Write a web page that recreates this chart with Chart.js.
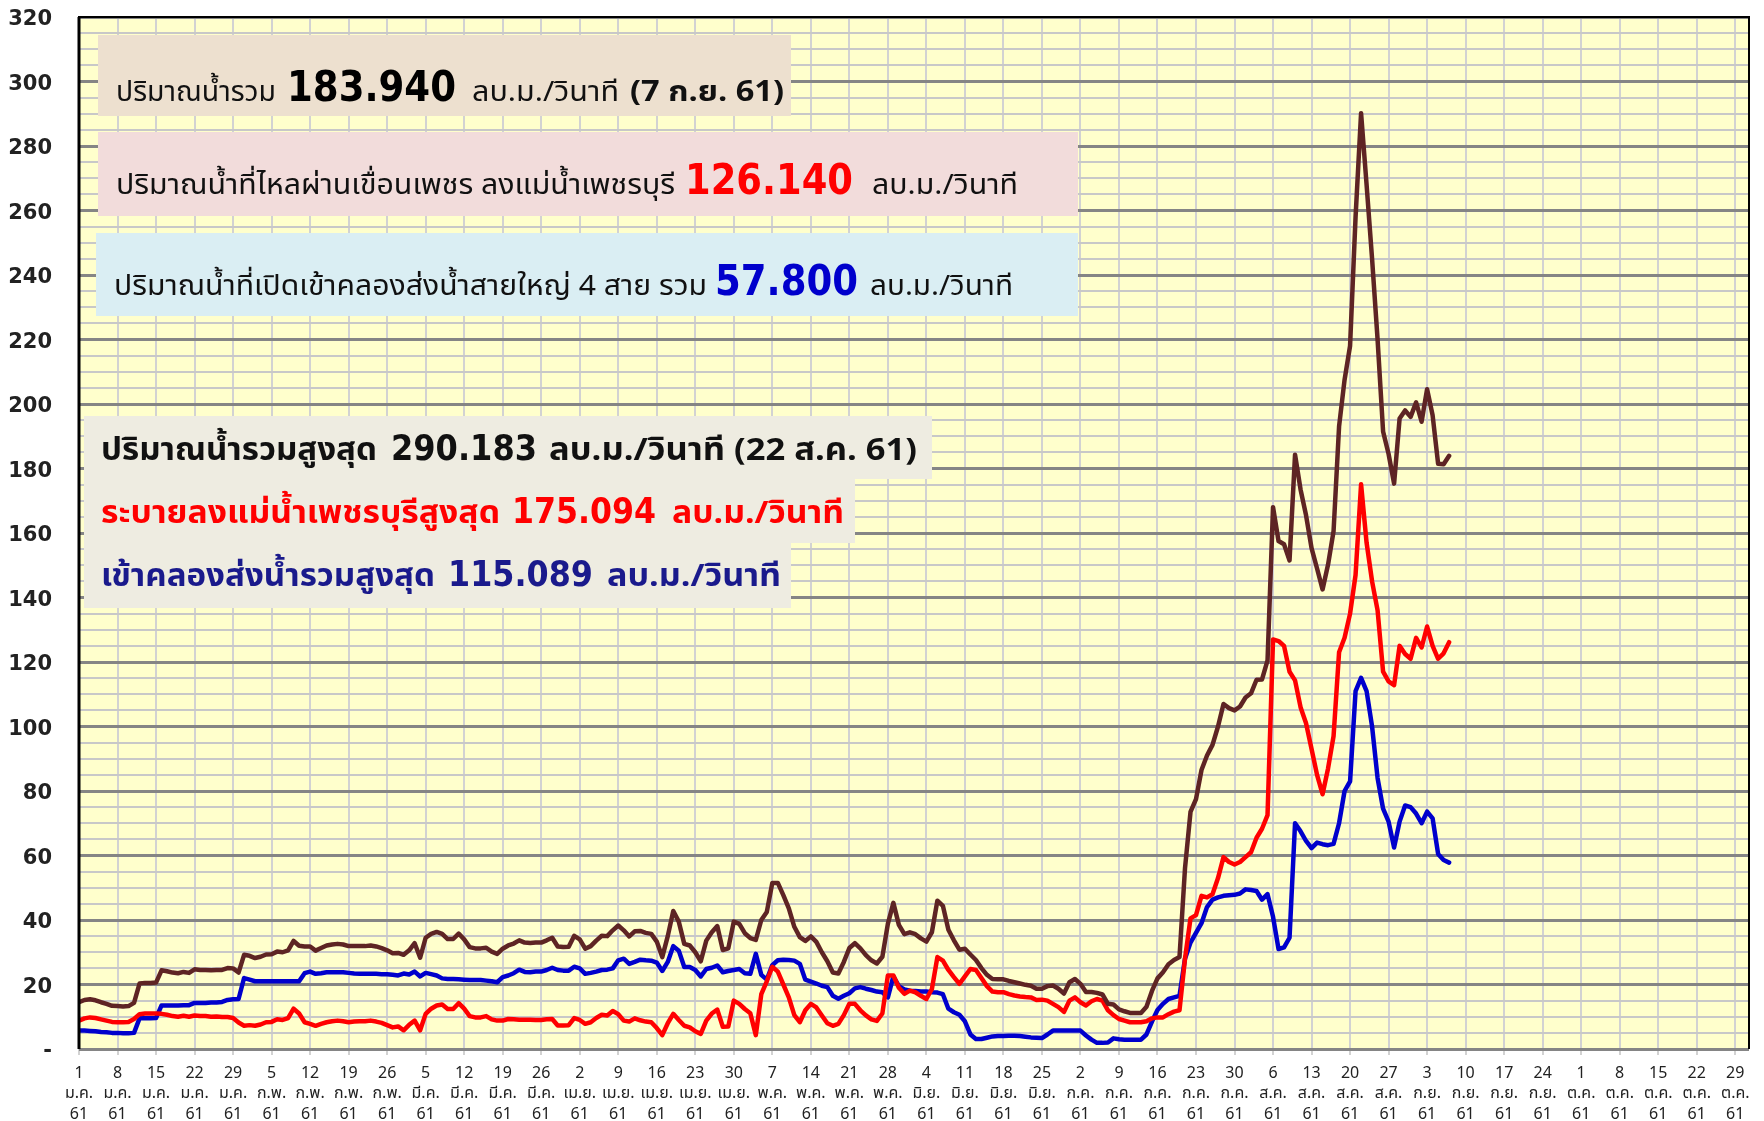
<!DOCTYPE html>
<html>
<head>
<meta charset="utf-8">
<script src="https://cdn.jsdelivr.net/npm/chart.js@4.4.1/dist/chart.umd.min.js"></script>
<style>
  html, body { margin: 0; padding: 0; background: #ffffff; }
  #wrap { width: 1764px; height: 1121px; }
</style>
</head>
<body>
<div id="wrap"><canvas id="flowChart" width="1764" height="1121"></canvas></div>
<script>
// Daily flow, 1 Jan 61 (index 0) to 7 Sep 61 (index 249), m3/s
// Water released to the Phetchaburi river
const releaseRiver = [
    8.8, 9.5, 9.8, 9.6, 9.2, 8.8, 8.4, 8.3, 8.3, 8.4,
    9.3, 10.8, 11.0, 11.0, 11.0, 10.9, 10.6, 10.2, 10.0, 10.3,
    10.0, 10.4, 10.2, 10.2, 10.0, 10.1, 9.9, 9.9, 9.6, 8.2,
    7.2, 7.4, 7.2, 7.6, 8.3, 8.4, 9.2, 9.0, 9.6, 12.5,
    11.0, 8.3, 7.8, 7.2, 7.8, 8.3, 8.6, 8.8, 8.6, 8.3,
    8.5, 8.6, 8.6, 8.8, 8.5, 8.1, 7.4, 6.7, 7.0, 5.8,
    7.5, 8.8, 5.8, 10.9, 12.5, 13.5, 13.8, 12.4, 12.4, 14.2,
    12.5, 10.2, 9.8, 9.8, 10.2, 9.2, 8.8, 8.8, 9.3, 9.2,
    9.1, 9.1, 9.1, 9.0, 9.0, 9.2, 9.3, 7.3, 7.3, 7.4,
    9.6, 9.0, 7.8, 8.3, 9.6, 10.6, 10.4, 11.8, 10.8, 8.8,
    8.5, 9.5, 8.9, 8.5, 8.3, 6.5, 4.3, 8.0, 10.9, 9.0,
    7.2, 6.7, 5.5, 4.7, 8.8, 11.0, 12.2, 6.9, 7.0, 15.0,
    14.0, 12.4, 11.1, 4.3, 17.0, 21.0, 25.5, 24.0, 20.0, 16.0,
    10.5, 8.3, 12.0, 14.0, 12.9, 10.4, 8.0, 7.2, 7.8, 10.5,
    14.0, 14.0, 12.0, 10.4, 9.2, 8.7, 11.0, 22.8, 22.8, 19.0,
    17.1, 18.1, 17.6, 16.5, 15.5, 18.6, 28.5, 27.4, 24.5, 22.3,
    20.2, 22.5, 24.8, 24.5, 22.0, 19.5, 17.8, 17.6, 17.6, 17.0,
    16.6, 16.3, 16.1, 16.0, 15.2, 15.3, 15.0, 14.0, 13.0, 11.5,
    15.0, 16.0, 14.5, 13.5, 14.8, 15.5, 15.0, 12.0, 10.5, 9.3,
    8.8, 8.3, 8.3, 8.3, 8.6, 9.5, 9.8, 9.8, 10.8, 11.6,
    12.0, 28.0, 40.5, 41.5, 47.5, 47.0, 48.0, 53.0, 59.5, 58.0,
    57.2, 58.0, 59.5, 61.0, 65.5, 68.3, 72.5, 127.0, 126.5, 125.0,
    117.0, 114.3, 106.0, 101.0, 93.0, 85.0, 79.0, 87.0, 97.0, 123.0,
    127.5, 135.0, 147.0, 175.094, 157.0, 145.0, 136.0, 117.0, 114.0, 112.8,
    125.0, 122.5, 121.0, 127.5, 124.5, 131.0, 125.0, 121.0, 122.7, 126.14
];

// Water sent into the 4 main irrigation canals
const inflowCanal = [
    5.7, 5.7, 5.6, 5.5, 5.3, 5.2, 5.0, 5.0, 4.9, 4.9,
    5.0, 9.5, 9.5, 9.5, 9.6, 13.5, 13.5, 13.5, 13.5, 13.6,
    13.6, 14.3, 14.3, 14.3, 14.4, 14.4, 14.6, 15.2, 15.4, 15.5,
    22.0, 21.5, 21.0, 21.0, 21.0, 21.0, 21.0, 21.0, 21.0, 21.0,
    21.0, 23.5, 24.0, 23.3, 23.5, 23.8, 23.8, 23.8, 23.8, 23.6,
    23.4, 23.3, 23.3, 23.3, 23.3, 23.2, 23.2, 23.0, 22.8, 23.4,
    23.1, 24.0, 22.5, 23.6, 23.2, 22.8, 21.9, 21.7, 21.7, 21.6,
    21.5, 21.4, 21.4, 21.4, 21.2, 21.0, 20.7, 22.3, 22.8, 23.5,
    24.6, 23.9, 23.8, 24.0, 24.0, 24.5, 25.2, 24.5, 24.3, 24.3,
    25.5, 25.0, 23.3, 23.6, 24.0, 24.5, 24.6, 25.0, 27.5, 28.0,
    26.4, 27.0, 27.7, 27.5, 27.4, 26.8, 24.2, 27.0, 31.9, 30.5,
    25.4, 25.4, 24.5, 22.5, 24.8, 25.2, 25.9, 23.8, 24.2, 24.5,
    24.8, 23.5, 23.3, 29.5, 23.0, 21.5, 26.0, 27.5, 27.7, 27.6,
    27.4, 26.4, 21.5, 20.9, 20.3, 19.6, 19.2, 16.5, 15.6, 16.5,
    17.3, 18.8, 19.2, 18.7, 18.3, 17.8, 17.6, 16.0, 22.5, 19.5,
    18.5, 18.1, 18.0, 17.8, 17.8, 17.6, 17.5, 17.0, 12.5, 11.4,
    10.6, 8.6, 4.5, 3.1, 3.1, 3.5, 3.9, 4.0, 4.0, 4.1,
    4.1, 4.0, 3.8, 3.6, 3.5, 3.4, 4.5, 5.7, 5.7, 5.7,
    5.7, 5.7, 5.7, 4.2, 2.9, 1.9, 1.9, 2.0, 3.3, 3.0,
    2.9, 2.9, 2.9, 2.9, 4.5, 8.5, 12.1, 14.0, 15.5, 16.0,
    16.5, 28.0, 33.0, 36.0, 39.0, 44.0, 46.3, 47.0, 47.5, 47.7,
    47.8, 48.2, 49.5, 49.3, 49.0, 46.3, 48.0, 41.0, 31.0, 31.5,
    34.5, 70.0, 67.5, 64.5, 62.3, 64.0, 63.5, 63.2, 63.6, 70.0,
    80.0, 83.0, 111.0, 115.089, 111.0, 100.0, 84.0, 74.5, 70.5, 62.5,
    70.5, 75.5, 75.0, 73.0, 70.0, 73.6, 71.5, 60.5, 58.6, 57.8
];

// Axis labels, one tick per week starting at index 0
const tickDay = ['1', '8', '15', '22', '29', '5', '12', '19', '26', '5', '12', '19', '26',
    '2', '9', '16', '23', '30', '7', '14', '21', '28', '4', '11', '18', '25',
    '2', '9', '16', '23', '30', '6', '13', '20', '27', '3', '10', '17', '24',
    '1', '8', '15', '22', '29'];
const tickMonth = ['ม.ค.', 'ม.ค.', 'ม.ค.', 'ม.ค.', 'ม.ค.', 'ก.พ.', 'ก.พ.', 'ก.พ.', 'ก.พ.',
    'มี.ค.', 'มี.ค.', 'มี.ค.', 'มี.ค.', 'เม.ย.', 'เม.ย.', 'เม.ย.', 'เม.ย.', 'เม.ย.',
    'พ.ค.', 'พ.ค.', 'พ.ค.', 'พ.ค.', 'มิ.ย.', 'มิ.ย.', 'มิ.ย.', 'มิ.ย.',
    'ก.ค.', 'ก.ค.', 'ก.ค.', 'ก.ค.', 'ก.ค.', 'ส.ค.', 'ส.ค.', 'ส.ค.', 'ส.ค.',
    'ก.ย.', 'ก.ย.', 'ก.ย.', 'ก.ย.', 'ต.ค.', 'ต.ค.', 'ต.ค.', 'ต.ค.', 'ต.ค.'];
const tickYear = '61';
const yTickValues = [0, 20, 40, 60, 80, 100, 120, 140, 160, 180, 200, 220, 240, 260, 280, 300, 320];

// Total flow is the sum of the two outlets
const totalFlow = releaseRiver.map((v, i) => +(v + inflowCanal[i]).toFixed(3));

const THAI_FONT = 'Tahoma, "Noto Sans Thai", "Noto Sans Thai UI", Loma, Garuda, "DejaVu Sans", sans-serif';
const NUM_FONT = 'Tahoma, "DejaVu Sans", sans-serif';

function toPoints(arr) {
    return arr.map((v, i) => ({ x: i, y: v }));
}

// Summary text boxes drawn over the plot; each run is fitted to width w
const infoBoxes = [
    { x: 98, y: 35, w: 693, h: 81, bg: '#EDE0CF', base: 101, runs: [
        { t: 'ปริมาณน้ำรวม', x: 116, w: 160, f: '28px ' + THAI_FONT, c: '#111' },
        { t: '183.940', x: 287, w: 169, f: 'bold 42px ' + NUM_FONT, c: '#000' },
        { t: 'ลบ.ม./วินาที', x: 472, w: 147, f: '28px ' + THAI_FONT, c: '#111' },
        { t: '(7 ก.ย. 61)', x: 630, w: 154, f: 'bold 28px ' + THAI_FONT, c: '#111' }
    ]},
    { x: 98, y: 132, w: 980, h: 84, bg: '#F2DCDB', base: 194, runs: [
        { t: 'ปริมาณน้ำที่ไหลผ่านเขื่อนเพชร ลงแม่น้ำเพชรบุรี', x: 116, w: 559, f: '28px ' + THAI_FONT, c: '#111' },
        { t: '126.140', x: 685, w: 168, f: 'bold 42px ' + NUM_FONT, c: '#FF0000' },
        { t: 'ลบ.ม./วินาที', x: 872, w: 146, f: '28px ' + THAI_FONT, c: '#111' }
    ]},
    { x: 96, y: 233, w: 982, h: 83, bg: '#DAEEF3', base: 295, runs: [
        { t: 'ปริมาณน้ำที่เปิดเข้าคลองส่งน้ำสายใหญ่ 4 สาย รวม', x: 114, w: 593, f: '28px ' + THAI_FONT, c: '#111' },
        { t: '57.800', x: 715, w: 143, f: 'bold 42px ' + NUM_FONT, c: '#0000CC' },
        { t: 'ลบ.ม./วินาที', x: 870, w: 143, f: '28px ' + THAI_FONT, c: '#111' }
    ]},
    { x: 84, y: 416, w: 848, h: 63, bg: '#EEECE1', base: 460, runs: [
        { t: 'ปริมาณน้ำรวมสูงสุด', x: 101, w: 276, f: 'bold 31px ' + THAI_FONT, c: '#111' },
        { t: '290.183', x: 391, w: 146, f: 'bold 35px ' + NUM_FONT, c: '#111' },
        { t: 'ลบ.ม./วินาที (22 ส.ค. 61)', x: 549, w: 368, f: 'bold 31px ' + THAI_FONT, c: '#111' }
    ]},
    { x: 84, y: 479, w: 771, h: 64, bg: '#EEECE1', base: 523, runs: [
        { t: 'ระบายลงแม่น้ำเพชรบุรีสูงสุด', x: 101, w: 399, f: 'bold 31px ' + THAI_FONT, c: '#FF0000' },
        { t: '175.094', x: 512, w: 144, f: 'bold 35px ' + NUM_FONT, c: '#FF0000' },
        { t: 'ลบ.ม./วินาที', x: 672, w: 172, f: 'bold 31px ' + THAI_FONT, c: '#FF0000' }
    ]},
    { x: 84, y: 543, w: 707, h: 65, bg: '#EEECE1', base: 586, runs: [
        { t: 'เข้าคลองส่งน้ำรวมสูงสุด', x: 101, w: 334, f: 'bold 31px ' + THAI_FONT, c: '#1A1A8C' },
        { t: '115.089', x: 448, w: 145, f: 'bold 35px ' + NUM_FONT, c: '#1A1A8C' },
        { t: 'ลบ.ม./วินาที', x: 607, w: 174, f: 'bold 31px ' + THAI_FONT, c: '#1A1A8C' }
    ]}
];

const plotDecor = {
    id: 'plotDecor',
    beforeDraw(chart) {
        const { ctx, chartArea: a } = chart;
        ctx.save();
        ctx.fillStyle = '#FFFFCC';
        ctx.fillRect(a.left, a.top, a.right - a.left, a.bottom - a.top);
        ctx.restore();
    },
    beforeDatasetsDraw(chart) {
        const ctx = chart.ctx;
        ctx.save();
        ctx.textBaseline = 'alphabetic';
        ctx.textAlign = 'left';
        infoBoxes.forEach(b => {
            ctx.fillStyle = b.bg;
            ctx.fillRect(b.x, b.y, b.w, b.h);
            b.runs.forEach(r => {
                ctx.font = r.f;
                ctx.fillStyle = r.c;
                const natural = ctx.measureText(r.t).width;
                ctx.save();
                ctx.translate(r.x, b.base);
                ctx.scale(r.w / natural, 1);
                ctx.fillText(r.t, 0, 0);
                ctx.restore();
            });
        });
        ctx.restore();
    },
    afterDraw(chart) {
        const { ctx, chartArea: a } = chart;
        ctx.save();
        ctx.strokeStyle = '#000';
        ctx.lineWidth = 2;
        ctx.beginPath();
        ctx.moveTo(a.left, a.bottom);
        ctx.lineTo(a.left, a.top);
        ctx.lineTo(a.right, a.top);
        ctx.lineTo(a.right, a.bottom);
        ctx.stroke();
        ctx.lineWidth = 3;
        ctx.beginPath();
        ctx.moveTo(a.left, a.top);
        ctx.lineTo(a.left, a.bottom);
        ctx.stroke();
        ctx.restore();
    }
};

const lineStyle = { fill: false, pointRadius: 0, borderWidth: 4.5, tension: 0,
    borderJoinStyle: 'round', borderCapStyle: 'round' };

new Chart(document.getElementById('flowChart'), {
    type: 'line',
    data: {
        datasets: [
            { label: 'ปริมาณน้ำรวม', data: toPoints(totalFlow), borderColor: '#5E2424', ...lineStyle },
            { label: 'ลงแม่น้ำเพชรบุรี', data: toPoints(releaseRiver), borderColor: '#FF0000', ...lineStyle },
            { label: 'เข้าคลองส่งน้ำ', data: toPoints(inflowCanal), borderColor: '#0000CC', ...lineStyle }
        ]
    },
    options: {
        responsive: false,
        devicePixelRatio: 1,
        animation: false,
        layout: { padding: { top: 17, right: 15, left: 0, bottom: 0 } },
        plugins: { legend: { display: false }, tooltip: { enabled: false } },
        scales: {
            x: {
                type: 'linear',
                min: 0,
                max: 303.5,
                afterBuildTicks: scale => {
                    scale.ticks = tickDay.map((d, i) => ({ value: i * 7 }));
                },
                afterFit: scale => {
                    scale.height = 72;
                    scale.paddingLeft = 0;
                    scale.paddingRight = 0;
                },
                grid: { color: '#D2D2D2', lineWidth: 2, tickLength: 6, drawOnChartArea: true },
                border: { display: false },
                ticks: {
                    autoSkip: false,
                    maxRotation: 0,
                    padding: 9,
                    color: '#222',
                    font: { family: THAI_FONT, size: 16, lineHeight: 1.3 },
                    callback: (v, i) => [tickDay[i], tickMonth[i], tickYear]
                }
            },
            y: {
                min: 0,
                max: 320,
                afterBuildTicks: scale => {
                    const t = [];
                    for (let v = 0; v <= 320; v += 5) t.push({ value: v });
                    scale.ticks = t;
                },
                afterFit: scale => {
                    scale.width = 79;
                    scale.paddingTop = 0;
                    scale.paddingBottom = 0;
                },
                grid: {
                    color: c => (c.tick.value % 20 === 0 ? '#858585' : '#C8C8C8'),
                    lineWidth: c => (c.tick.value % 20 === 0 ? 3 : 2),
                    drawTicks: false
                },
                border: { display: false },
                ticks: {
                    autoSkip: false,
                    padding: 27,
                    labelOffset: 3,
                    color: '#222',
                    font: { family: NUM_FONT, size: 21, weight: 'bold' },
                    callback: v => (yTickValues.includes(v) ? (v === 0 ? '-' : String(v)) : '')
                }
            }
        }
    },
    plugins: [plotDecor]
});
</script>
</body>
</html>
